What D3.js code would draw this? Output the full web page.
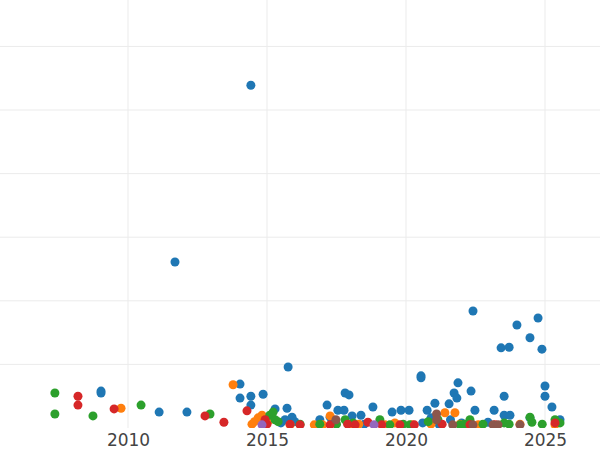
<!DOCTYPE html>
<html><head><meta charset="utf-8">
<script src="https://cdn.jsdelivr.net/npm/d3@7"></script>
<style>body{margin:0;background:#fff}</style>
</head><body>
<svg width="600" height="450"></svg>
<script>
"use strict";
// [year, value]
var blue = [[2009.03,0.58],[2009.03,0.55],[2011.12,0.25],[2012.12,0.25],[2011.69,2.61],[2014.03,0.69],[2014.03,0.47],
  [2014.42,5.39],[2014.42,0.50],[2014.42,0.36],[2014.86,0.53],[2015.29,0.30],[2015.76,0.96],[2015.72,0.31],[2015.90,0.17],
  [2015.65,0.13],[2016.9,0.13],[2017.16,0.36],[2017.27,0.17],[2017.55,0.28],[2017.81,0.55],[2017.95,0.52],[2017.77,0.28],
  [2018.06,0.19],[2018.38,0.20],[2018.81,0.33],[2019.50,0.25],[2019.82,0.28],[2020.11,0.28],[2020.54,0.82],[2020.54,0.79],
  [2020.76,0.28],[2021.04,0.39],[2020.9,0.16],[2021.55,0.38],[2021.73,0.55],[2021.87,0.71],[2021.83,0.47],[2021.6,0.13],
  [2022.34,0.58],[2022.48,0.28],[2022.41,1.84],[2022.95,0.09],[2023.17,0.28],[2023.42,1.26],[2023.71,1.27],[2023.53,0.50],
  [2023.53,0.20],[2023.74,0.20],[2023.99,1.62],[2024.46,1.42],[2024.46,0.16],[2024.75,1.73],[2024.89,1.24],[2025.0,0.66],
  [2025.0,0.50],[2025.25,0.33],[2025.54,0.13],[2021.2,0.05],[2020.6,0.08],[2015.5,0.08],[2016.0,0.1],[2018.5,0.06],
  [2021.0,0.1],[2022.0,0.08],[2025.45,0.1]];
var orange = [[2013.78,0.68],[2009.75,0.31],[2014.46,0.06],[2014.68,0.16],[2014.82,0.2],[2015.1,0.13],[2015.83,0.05],
  [2016.7,0.05],[2017.27,0.19],[2017.98,0.05],[2019.24,0.05],[2019.6,0.08],[2020.22,0.05],[2021.4,0.24],[2021.76,0.24],
  [2021.94,0.06],[2024.1,0.06],[2025.36,0.05],[2014.55,0.1],[2017.0,0.05],[2018.3,0.06],[2020.9,0.06],[2022.6,0.05]];
var green = [[2007.37,0.55],[2007.37,0.22],[2008.74,0.19],[2010.47,0.36],[2012.95,0.22],[2015.1,0.2],[2015.22,0.25],
  [2015.29,0.13],[2016.19,0.06],[2016.9,0.06],[2017.81,0.13],[2019.06,0.13],[2019.42,0.05],[2020.14,0.05],[2021.15,0.13],
  [2021.94,0.05],[2022.3,0.13],[2022.77,0.06],[2023.53,0.08],[2023.71,0.06],[2024.46,0.17],[2024.53,0.09],[2025.36,0.13],
  [2025.54,0.08],[2015.4,0.1],[2017.5,0.06],[2018.1,0.08],[2019.9,0.06],[2020.8,0.1],[2022.1,0.06],[2024.9,0.06]];
var red = [[2008.2,0.50],[2008.2,0.36],[2009.5,0.30],[2012.77,0.19],[2013.45,0.09],[2014.28,0.27],[2014.93,0.13],
  [2015.83,0.06],[2016.19,0.05],[2017.27,0.05],[2018.17,0.05],[2018.63,0.09],[2019.13,0.05],[2019.78,0.05],[2022.3,0.05],
  [2023.2,0.05],[2025.36,0.08],[2015.0,0.06],[2017.9,0.06],[2020.3,0.05],[2021.3,0.06]];
var purple = [[2014.82,0.05],[2018.85,0.05]];
var brown = [[2017.48,0.13],[2021.1,0.22],[2021.1,0.13],[2021.68,0.05],[2022.41,0.05],[2023.13,0.05],[2023.31,0.05],[2024.1,0.05]];
var series = [[blue,"#1f77b4"],[orange,"#ff7f0e"],[green,"#2ca02c"],[red,"#d62728"],[purple,"#9467bd"],[brown,"#8c564b"]];
var xTicks = [2010, 2015, 2020, 2025];
var yGrid = [1, 2, 3, 4, 5, 6];

var svg = d3.select("svg"),
    bottom = 428;
var x = d3.scaleLinear().domain([2010, 2025]).range([128, 545]),
    y = d3.scaleLinear().domain([0, 6.73]).range([bottom, 0]);

svg.append("defs").append("clipPath").attr("id", "clip")
  .append("rect").attr("x", 0).attr("y", 0).attr("width", 600).attr("height", bottom);

var grid = svg.append("g").attr("stroke", "#ebebeb").attr("stroke-width", 1);
grid.selectAll(".gx").data(xTicks).enter().append("line")
  .attr("x1", d => x(d)).attr("x2", d => x(d)).attr("y1", 0).attr("y2", bottom);
grid.selectAll(".gy").data(yGrid).enter().append("line")
  .attr("x1", 0).attr("x2", 600).attr("y1", d => y(d)).attr("y2", d => y(d));

var pts = svg.append("g").attr("clip-path", "url(#clip)");
series.forEach(function(s){
  pts.append("g").selectAll("circle").data(s[0]).enter().append("circle")
    .attr("cx", d => x(d[0])).attr("cy", d => y(d[1])).attr("r", 4.5)
    .attr("fill", s[1]);
});

var ax = svg.append("g").attr("transform", "translate(0," + bottom + ")")
  .call(d3.axisBottom(x).tickValues(xTicks).tickFormat(d3.format("d")).tickSize(0).tickPadding(6));
ax.select(".domain").remove();
ax.selectAll("text").attr("font-family", "DejaVu Sans").attr("font-size", 17).attr("fill", "#444");
</script>
</body></html>
